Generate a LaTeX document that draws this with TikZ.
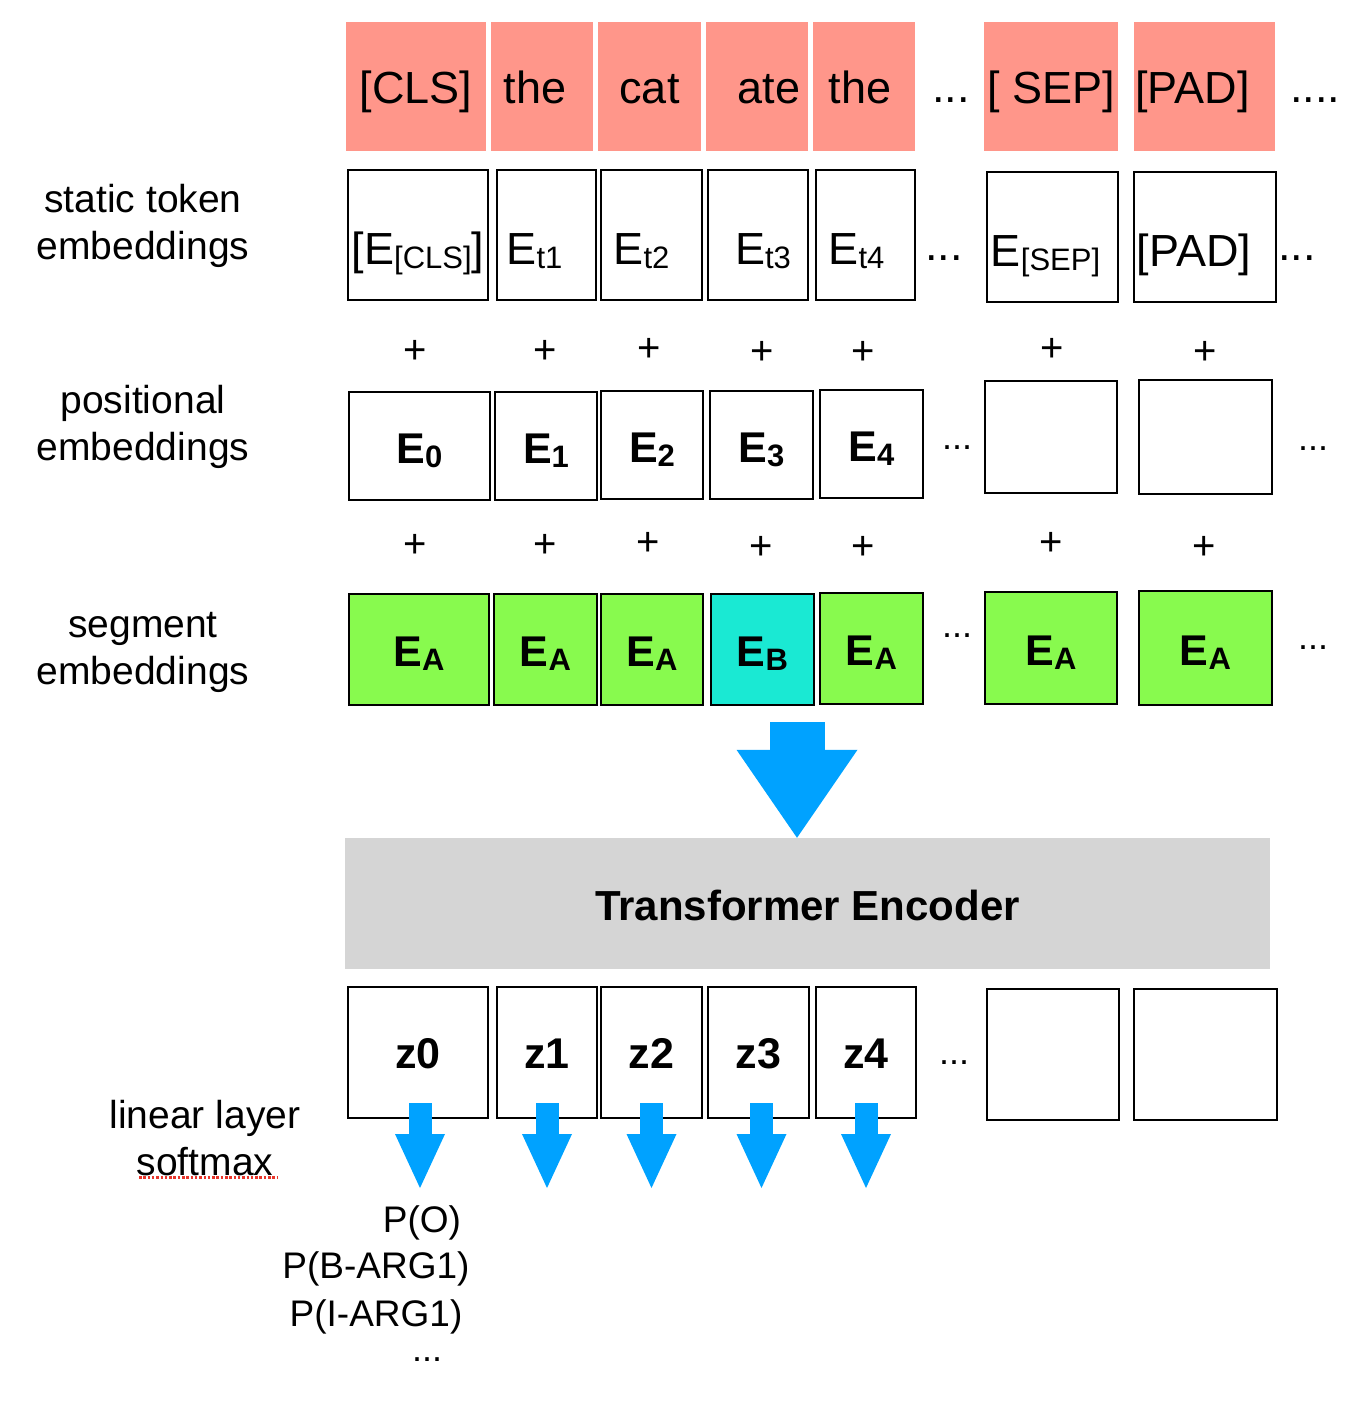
\documentclass[tikz,border=0pt]{standalone}
\usepackage{fontspec}
\setmainfont{Liberation Sans}
\usepackage{xcolor}
\usepackage{tikz}
\usetikzlibrary{positioning,arrows.meta}
\definecolor{TokPink}{HTML}{FF968A}
\definecolor{SegGreen}{HTML}{88FA4E}
\definecolor{SegCyan}{HTML}{1AE9D3}
\definecolor{FlowBlue}{HTML}{00A2FF}
\definecolor{EncGray}{HTML}{D5D5D5}
\definecolor{SpellRed}{HTML}{E8352B}
\newcommand{\fsz}[1]{\fontsize{#1}{#1}\selectfont}
\newcommand{\lowsub}[1]{\raisebox{-4pt}{\fsz{31}#1}}

\begin{document}
\begin{tikzpicture}[x=1pt,y=-1pt,
  tokbox/.style={fill=TokPink,minimum height=129pt,inner sep=0pt,text height=38pt,text depth=3pt,font=\fsz{45}},
  embbox/.style={draw,line width=2pt,minimum height=130pt,inner sep=0pt,text height=60pt,text depth=2pt,font=\fsz{45}},
  posbox/.style={draw,line width=2pt,minimum height=108pt,inner sep=0pt,text height=37pt,text depth=3pt,font=\fsz{43}\bfseries},
  segbox/.style={posbox,fill=SegGreen,minimum height=111pt},
  zbox/.style={draw,line width=2pt,minimum height=131pt,inner sep=0pt,text height=33pt,text depth=2pt,font=\fsz{43}\bfseries},
  plussign/.style={font=\fsz{40},inner sep=0pt},
  ellip/.style={font=\fsz{45},inner sep=0pt},
  smallellip/.style={font=\fsz{36},inner sep=0pt},
  rowlabel/.style={font=\fontsize{39}{47}\selectfont,align=center,inner sep=0pt},
  problabel/.style={font=\fsz{37},inner sep=0pt},
  bigarrow/.style={FlowBlue,line width=55pt,-{Triangle[width=121pt,length=88pt,line width=0pt]}},
  smallarrow/.style={FlowBlue,line width=23pt,-{Triangle[width=50pt,length=54pt,line width=0pt]}}]
        \useasboundingbox (0,0) rectangle (1366,1410);
        % Input tokens
        \node[tokbox,minimum width=140pt] (cls) at (416,86.5) {[CLS]};
        \node[tokbox,minimum width=102pt] (the1) at (542,86.5) {the\kern14pt};
        \node[tokbox,minimum width=103pt] (cat) at (649.5,86.5) {cat};
        \node[tokbox,minimum width=102pt] (ate) at (757,86.5) {\kern24pt ate};
        \node[tokbox,minimum width=102pt] (the2) at (864,86.5) {the\kern8pt};
        \node[ellip] (tokdots) at (951,100) {...};
        \node[tokbox,minimum width=134pt] (sep) at (1051,86.5) {[ SEP]};
        \node[tokbox,minimum width=141pt] (pad) at (1204.5,86.5) {[PAD]\kern24pt};
        \node[ellip] (tokdotsb) at (1315,100) {....};
        % Static token embeddings
        \node[rowlabel] (statlbl) at (143,226) {static token\\embeddings};
        \node[embbox,minimum width=140pt] (ecls) at (418,235) {[E\lowsub{[CLS]}]};
        \node[embbox,minimum width=99pt] (et1) at (546.5,235) {E\lowsub{t1}\kern24pt};
        \node[embbox,minimum width=101pt] (et2) at (651.5,235) {E\lowsub{t2}\kern20pt};
        \node[embbox,minimum width=100pt] (et3) at (758,235) {\kern10pt E\lowsub{t3}};
        \node[embbox,minimum width=99pt] (et4) at (865.5,235) {E\lowsub{t4}\kern18pt};
        \node[ellip] (embdots) at (944,258) {...};
        \node[embbox,minimum width=131pt] (esep) at (1052.5,237) {E\lowsub{[SEP]}\kern14pt};
        \node[embbox,minimum width=142pt] (epad) at (1205,237) {[PAD]\kern22pt};
        \node[ellip] (embdotsb) at (1297,258) {...};
        % plus signs
        \node[plussign] (pa0) at (415,352) {+};
        \node[plussign] (pa1) at (545,352) {+};
        \node[plussign] (pa2) at (649,350) {+};
        \node[plussign] (pa3) at (762,353) {+};
        \node[plussign] (pa4) at (863,353) {+};
        \node[plussign] (pa5) at (1052,350) {+};
        \node[plussign] (pa6) at (1205,353) {+};
        % Positional embeddings
        \node[rowlabel] (poslbl) at (143,427) {positional\\embeddings};
        \node[posbox,minimum width=141pt] (p0) at (419.5,446) {E\lowsub{0}};
        \node[posbox,minimum width=102pt] (p1) at (546,446) {E\lowsub{1}};
        \node[posbox,minimum width=102pt] (p2) at (652,445) {E\lowsub{2}};
        \node[posbox,minimum width=103pt] (p3) at (761.5,445) {E\lowsub{3}};
        \node[posbox,minimum width=103pt] (p4) at (871.5,444) {E\lowsub{4}};
        \node[smallellip] (posdots) at (957,448) {...};
        \node[posbox,minimum width=132pt,minimum height=112pt] (p5) at (1051,437) {};
        \node[posbox,minimum width=133pt,minimum height=114pt] (p6) at (1205.5,437) {};
        \node[smallellip] (posdotsb) at (1313,449) {...};
        % plus signs
        \node[plussign] (pb0) at (415,546) {+};
        \node[plussign] (pb1) at (545,546) {+};
        \node[plussign] (pb2) at (648,544) {+};
        \node[plussign] (pb3) at (761,548) {+};
        \node[plussign] (pb4) at (863,548) {+};
        \node[plussign] (pb5) at (1051,544) {+};
        \node[plussign] (pb6) at (1204,548) {+};
        % Segment embeddings
        \node[rowlabel] (seglbl) at (143,652) {segment\\embeddings};
        \node[segbox,minimum width=140pt] (s0) at (419,649.5) {E\lowsub{A}};
        \node[segbox,minimum width=103pt] (s1) at (545.5,649.5) {E\lowsub{A}};
        \node[segbox,minimum width=102pt] (s2) at (652,649) {E\lowsub{A}};
        \node[segbox,minimum width=103pt,fill=SegCyan] (s3) at (762.5,649) {E\lowsub{B}};
        \node[segbox,minimum width=103pt] (s4) at (871.5,648) {E\lowsub{A}};
        \node[smallellip] (segdots) at (957,636) {...};
        \node[segbox,minimum width=132pt,minimum height=112pt] (s5) at (1051,648) {E\lowsub{A}};
        \node[segbox,minimum width=133pt,minimum height=114pt] (s6) at (1205.5,648) {E\lowsub{A}};
        \node[smallellip] (segdotsb) at (1313,648) {...};
        % Encoder
        \node[fill=EncGray,minimum width=925pt,minimum height=131pt,inner sep=0pt,text height=35pt,text depth=2pt,font=\fsz{42}\bfseries] (enc) at (807.5,903.5) {Transformer Encoder};
        \coordinate (flowtop) at (797,722);
        \draw[bigarrow] (flowtop) -- (flowtop |- enc.north);
        % Outputs
        \node[zbox,minimum width=140pt] (z0) at (418,1052.5) {z0};
        \node[zbox,minimum width=100pt] (z1) at (547,1052.5) {z1};
        \node[zbox,minimum width=101pt] (z2) at (651.5,1052.5) {z2};
        \node[zbox,minimum width=101pt] (z3) at (758.5,1052.5) {z3};
        \node[zbox,minimum width=100pt] (z4) at (866,1052.5) {z4};
        \node[smallellip] (zdots) at (954,1063) {...};
        \node[zbox,minimum width=132pt] (zb1) at (1053,1054.5) {};
        \node[zbox,minimum width=143pt] (zb2) at (1205.5,1054.5) {};
        % linear layer + softmax
        \node[rowlabel] (linlbl) at (205,1138) {linear layer\\softmax};
        \draw[SpellRed,line width=3pt,dash pattern=on 2.5pt off 1.8pt] (139,1177) -- (277,1177);
        \coordinate (outline) at (0,1188);
        \draw[smallarrow] ([xshift=2pt,yshift=16pt]z0.south) -- ([xshift=2pt]z0.south |- outline);
        \draw[smallarrow] ([yshift=16pt]z1.south) -- (z1.south |- outline);
        \draw[smallarrow] ([yshift=16pt]z2.south) -- (z2.south |- outline);
        \draw[smallarrow] ([xshift=3pt,yshift=16pt]z3.south) -- ([xshift=3pt]z3.south |- outline);
        \draw[smallarrow] ([yshift=16pt]z4.south) -- (z4.south |- outline);
        \node[problabel] (pO) at (422,1223) {P(O)};
        \node[problabel] (pB) at (376,1269) {P(B-ARG1)};
        \node[problabel] (pI) at (376,1317) {P(I-ARG1)};
        \node[smallellip] (pdots) at (427,1360) {...};
      \end{tikzpicture}
\end{document}
